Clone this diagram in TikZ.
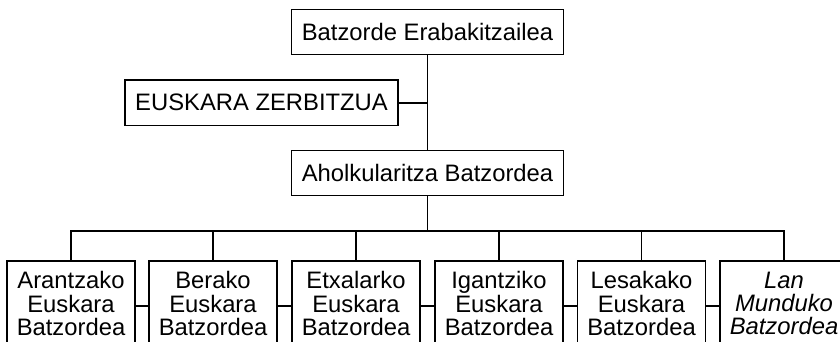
\documentclass[tikz,border=0pt]{standalone}
\usepackage{fontspec}
\setmainfont{Liberation Sans}
\begin{document}
\begin{tikzpicture}[x=1pt,y=-1pt,line width=1.5pt,
  box/.style={draw, inner sep=0pt, align=center, font=\fontsize{23.8}{23.4}\selectfont},
  topbox/.style={box, minimum width=272pt, minimum height=45pt},
  unitbox/.style={box, minimum width=128pt, minimum height=85pt}]
\useasboundingbox (0,0) rectangle (840,341);
\node[topbox] (top) at (427.5,32) {Batzorde Erabakitzailea};
\node[box, minimum width=273pt, minimum height=45.5pt] (eu) at (261.5,102.8) {EUSKARA ZERBITZUA};
\node[topbox] (ahol) at (427.5,173) {Aholkularitza Batzordea};
\node[unitbox] (b1) at (71,303.5) {Arantzako\\Euskara\\Batzordea};
\node[unitbox] (b2) at (213,303.5) {Berako\\Euskara\\Batzordea};
\node[unitbox] (b3) at (356,303.5) {Etxalarko\\Euskara\\Batzordea};
\node[unitbox] (b4) at (499,303.5) {Igantziko\\Euskara\\Batzordea};
\node[unitbox] (b5) at (641.5,303.5) {Lesakako\\Euskara\\Batzordea};
\node[unitbox, font=\fontsize{23.8}{23.4}\selectfont\itshape] (b6) at (784,303.5) {Lan\\Munduko\\Batzordea};
\coordinate (bus) at (427.5,231);
\draw (top.south) -- (ahol.north);
\draw (eu.east) -- (eu.east -| top.south);
\draw (ahol.south) -- (bus);
\draw (b1.north) |- (bus) -| (b6.north);
\foreach \n in {b2,b3,b4,b5} \draw (\n.north) -- (\n.north |- bus);
\foreach \a/\b in {b1/b2,b2/b3,b3/b4,b4/b5,b5/b6}
  \draw ([yshift=-2.5pt]\a.east) -- ([yshift=-2.5pt]\b.west);
\end{tikzpicture}
\end{document}
